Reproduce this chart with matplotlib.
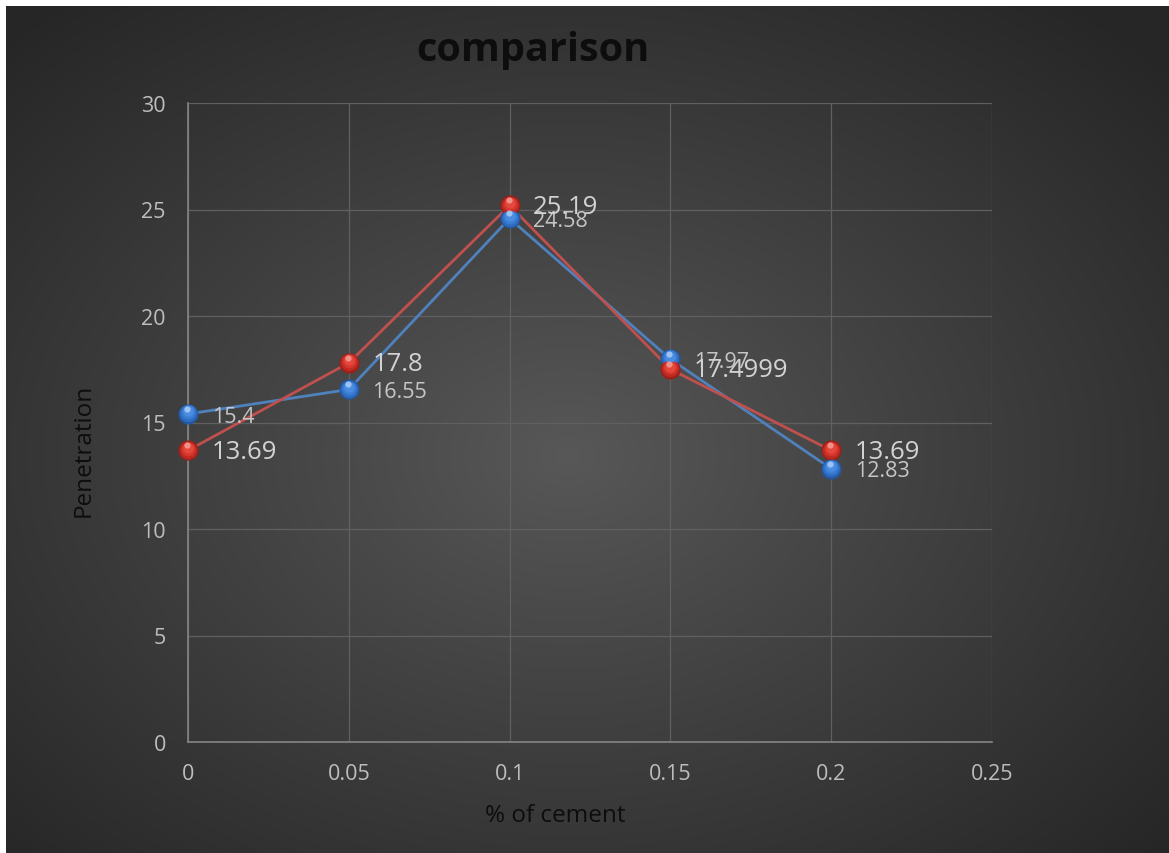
import numpy as np
import matplotlib
matplotlib.use("Agg")
import matplotlib.pyplot as plt
from matplotlib.transforms import ScaledTranslation

# Data
cement_pct = [0, 0.05, 0.1, 0.15, 0.2]
blue_vals = [15.4, 16.55, 24.58, 17.97, 12.83]
red_vals = [13.69, 17.8, 25.19, 17.4999, 13.69]
blue_labels = ["15.4", "16.55", "24.58", "17.97", "12.83"]
red_labels = ["13.69", "17.8", "25.19", "17.4999", "13.69"]
x_ticks = [0, 0.05, 0.1, 0.15, 0.2, 0.25]
x_tick_labels = ["0", "0.05", "0.1", "0.15", "0.2", "0.25"]
y_ticks = [0, 5, 10, 15, 20, 25, 30]

W, H = 1169, 854
fig = plt.figure(figsize=(W / 100, H / 100), dpi=100, facecolor="white")
plt.rcParams["font.family"] = ["Open Sans", "DejaVu Sans"]

# Radial gradient backdrop (runs past the right and bottom edges)
bg = fig.add_axes([6 / W, -0.02, 1.02, 1.02 - 7 / H])
bg.set_axis_off()
yy, xx = np.mgrid[0:400, 0:560]
cx, cy = 0.47 * 560, 0.52 * 400
r = np.sqrt(((xx - cx) / 560) ** 2 + ((yy - cy) / 400) ** 2) / 0.68
r = np.clip(r, 0, 1)
inner, outer = 0x58 / 255, 0x26 / 255
val = inner + (outer - inner) * r ** 0.95
img = np.dstack([val, val, val])
bg.imshow(img, aspect="auto", extent=[0, 1, 0, 1], interpolation="bicubic")
bg.set_xlim(0, 1)
bg.set_ylim(0, 1)

ax = fig.add_axes([188 / W, 1 - 743 / H, (992 - 188) / W, (743 - 104) / H])
ax.patch.set_alpha(0)
ax.set_xlim(0, 0.25)
ax.set_ylim(0, 30)
ax.set_xticks(x_ticks)
ax.set_xticklabels(x_tick_labels)
ax.set_yticks(y_ticks)
ax.grid(True, color="#606060", linewidth=0.9)
ax.set_axisbelow(True)
for s in ["top", "right"]:
    ax.spines[s].set_visible(False)
for s in ["left", "bottom"]:
    ax.spines[s].set_color("#858585")
    ax.spines[s].set_linewidth(1.2)
ax.tick_params(length=0, colors="#bdbdbd", labelsize=15.5)
ax.tick_params(axis="y", pad=16)
ax.tick_params(axis="x", pad=15)


def shifted(dx, dy):
    return ax.transData + ScaledTranslation(dx / 100, dy / 100, fig.dpi_scale_trans)


def sphere_series(xs, ys, line_col, shades, light):
    ax.plot(xs, ys, color=line_col, linewidth=2.0, zorder=3, clip_on=False)
    sizes = [14.5, 12.5, 10, 7.5]
    for k, (ms, col) in enumerate(zip(sizes, shades)):
        ax.plot(xs, ys, linestyle="none", marker="o", markersize=ms,
                markerfacecolor=col, markeredgecolor="none", zorder=4 + k,
                transform=shifted(0, k * 0.9), clip_on=False)
    ax.plot(xs, ys, linestyle="none", marker="o", markersize=4.5,
            markerfacecolor=light, markeredgecolor="none", alpha=0.75, zorder=9,
            transform=shifted(-1, 5), clip_on=False)


sphere_series(cement_pct, blue_vals, "#4f81bd",
              ["#23579f", "#2f6cc0", "#3a7dd4", "#4a8de0"], "#b8d6f7")
sphere_series(cement_pct, red_vals, "#c0504d",
              ["#9c1f19", "#bd2a22", "#d6362c", "#e4473b"], "#f7aaa2")

for x, y, t in zip(cement_pct, blue_vals, blue_labels):
    ax.annotate(t, (x, y), xytext=(17, -1.5), textcoords="offset points",
                va="center", ha="left", fontsize=15.5, color="#c6c6c6", zorder=10)
for x, y, t in zip(cement_pct, red_vals, red_labels):
    ax.annotate(t, (x, y), xytext=(17, -0.5), textcoords="offset points",
                va="center", ha="left", fontsize=18.5, color="#d2d2d2", zorder=11)

fig.text(533 / W, 1 - 50 / H, "comparison", ha="center", va="center",
         fontsize=28.5, fontweight="bold", color="#0d0d0d")
fig.text(555 / W, 1 - 816 / H, "% of cement", ha="center", va="center",
         fontsize=17.5, color="#0d0d0d")
fig.text(84 / W, 1 - 450 / H, "Penetration", ha="center", va="center",
         rotation=90, fontsize=17.5, color="#0d0d0d")

fig.savefig("out.png", dpi=100, facecolor="white")
